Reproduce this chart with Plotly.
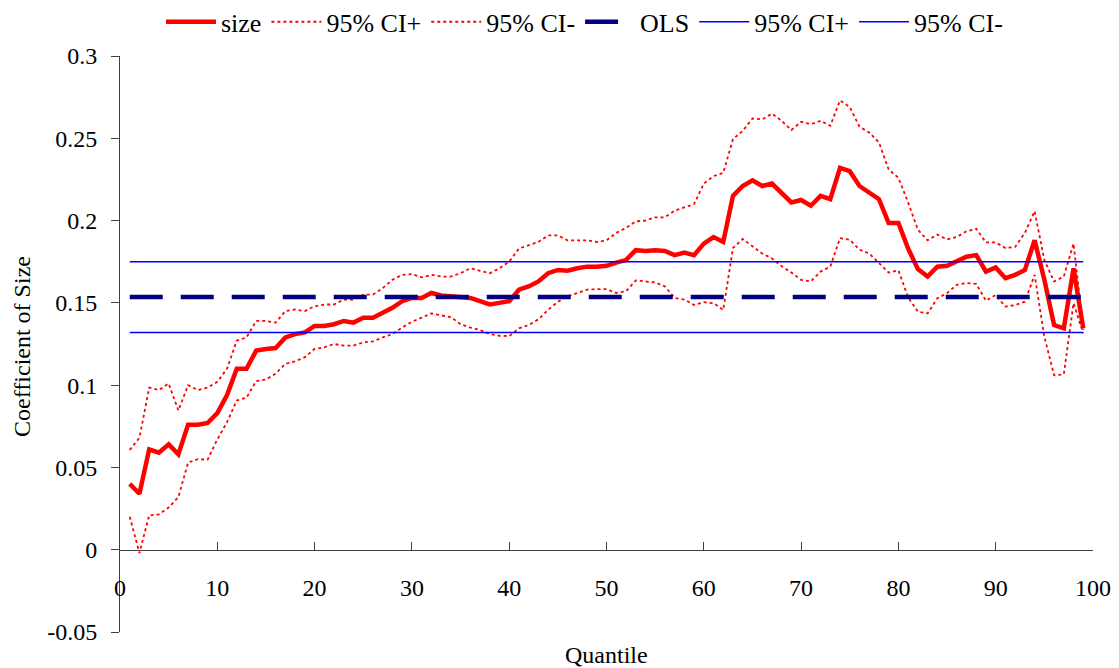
import plotly.graph_objects as go

quantiles = list(range(1, 100))

size = [0.040, 0.034, 0.061, 0.059, 0.064, 0.058, 0.076, 0.076, 0.077, 0.083,
        0.094, 0.110, 0.110, 0.121, 0.122, 0.1225, 0.129, 0.131, 0.132, 0.136,
        0.136, 0.137, 0.139, 0.138, 0.141, 0.141, 0.144, 0.147, 0.151, 0.153,
        0.153, 0.156, 0.1545, 0.154, 0.1535, 0.153, 0.151, 0.149, 0.150, 0.151,
        0.158, 0.160, 0.163, 0.168, 0.170, 0.1695, 0.171, 0.172, 0.172, 0.1725,
        0.1745, 0.176, 0.182, 0.1815, 0.182, 0.1815, 0.179, 0.1805, 0.179, 0.186,
        0.190, 0.187, 0.215, 0.221, 0.2245, 0.221, 0.2225, 0.217, 0.211, 0.2125,
        0.209, 0.215, 0.213, 0.232, 0.230, 0.221, 0.217, 0.213, 0.1985, 0.1985,
        0.183, 0.1705, 0.166, 0.172, 0.1725, 0.175, 0.178, 0.179, 0.169, 0.1715,
        0.165, 0.167, 0.170, 0.188, 0.164, 0.1365, 0.1345, 0.171, 0.1345]

ci_upper = [0.0606, 0.068, 0.0985, 0.097, 0.101, 0.0846, 0.100, 0.097, 0.0985, 0.102,
            0.110, 0.127, 0.129, 0.139, 0.139, 0.138, 0.145, 0.146, 0.145, 0.148,
            0.149, 0.149, 0.152, 0.152, 0.155, 0.155, 0.159, 0.164, 0.167, 0.1675,
            0.1655, 0.167, 0.166, 0.166, 0.168, 0.171, 0.1695, 0.168, 0.171, 0.175,
            0.183, 0.185, 0.187, 0.191, 0.191, 0.188, 0.188, 0.188, 0.187, 0.188,
            0.1925, 0.1955, 0.1995, 0.200, 0.202, 0.202, 0.206, 0.208, 0.210, 0.2225,
            0.227, 0.229, 0.2495, 0.2545, 0.262, 0.2615, 0.265, 0.2606, 0.255, 0.260,
            0.2586, 0.2606, 0.2576, 0.273, 0.269, 0.257, 0.2535, 0.2475, 0.231, 0.226,
            0.211, 0.1945, 0.188, 0.1915, 0.1885, 0.190, 0.1935, 0.195, 0.1867, 0.1867,
            0.1833, 0.184, 0.1925, 0.2057, 0.176, 0.163, 0.166, 0.186, 0.1335]

ci_lower = [0.020, -0.002, 0.021, 0.0215, 0.0256, 0.032, 0.053, 0.055, 0.0547, 0.067,
            0.0775, 0.0907, 0.0924, 0.1025, 0.1034, 0.107, 0.113, 0.1145, 0.117, 0.122,
            0.123, 0.125, 0.124, 0.124, 0.126, 0.1266, 0.129, 0.131, 0.135, 0.1385,
            0.141, 0.1436, 0.1424, 0.1414, 0.137, 0.135, 0.1335, 0.131, 0.130, 0.1298,
            0.1345, 0.1365, 0.140, 0.1457, 0.1507, 0.154, 0.156, 0.158, 0.1583, 0.1583,
            0.156, 0.157, 0.1636, 0.163, 0.1624, 0.160, 0.153, 0.152, 0.1487, 0.1504,
            0.1498, 0.1457, 0.1833, 0.1888, 0.1843, 0.180, 0.177, 0.1723, 0.1684, 0.164,
            0.163, 0.169, 0.172, 0.1894, 0.1884, 0.1823, 0.180, 0.1742, 0.1684, 0.1697,
            0.1534, 0.1446, 0.1436, 0.1528, 0.1559, 0.161, 0.162, 0.1615, 0.1513, 0.1548,
            0.1477, 0.1487, 0.1507, 0.167, 0.1294, 0.106, 0.1066, 0.1498, 0.1314]

ols_coef = 0.1535
ols_ci_upper = 0.175
ols_ci_lower = 0.132

x_ticks = list(range(0, 101, 10))
y_ticks = [-0.05, 0, 0.05, 0.1, 0.15, 0.2, 0.25, 0.3]
y_tick_text = ["-0.05", "0", "0.05", "0.1", "0.15", "0.2", "0.25", "0.3"]

FONT = "Liberation Serif"

fig = go.Figure()
fig.add_trace(go.Scatter(x=quantiles, y=size, mode="lines", name="size",
                         line=dict(color="#FF0000", width=4.5)))
fig.add_trace(go.Scatter(x=quantiles, y=ci_upper, mode="lines", name="95% CI+",
                         line=dict(color="#FF0000", width=1.8, dash="3px,3px")))
fig.add_trace(go.Scatter(x=quantiles, y=ci_lower, mode="lines", name="95% CI-",
                         line=dict(color="#FF0000", width=1.8, dash="3px,3px")))
fig.add_trace(go.Scatter(x=quantiles, y=[ols_coef] * len(quantiles), mode="lines", name="OLS",
                         line=dict(color="#000080", width=4.5, dash="33px,18px")))
fig.add_trace(go.Scatter(x=quantiles, y=[ols_ci_upper] * len(quantiles), mode="lines", name="95% CI+",
                         line=dict(color="#0000FF", width=1.5)))
fig.add_trace(go.Scatter(x=quantiles, y=[ols_ci_lower] * len(quantiles), mode="lines", name="95% CI-",
                         line=dict(color="#0000FF", width=1.5)))

# the page body has an 8px margin, so the figure is drawn 8px right/down
fig.update_layout(
    width=1111, height=660,
    margin=dict(l=112.4, r=26, t=48, b=36, autoexpand=False),
    paper_bgcolor="white", plot_bgcolor="white",
    font=dict(family=FONT, size=24, color="black"),
    showlegend=True,
    legend=dict(orientation="h", xref="container", yref="container",
                x=0.1377, xanchor="left", y=0.979, yanchor="middle",
                itemwidth=50, font=dict(family=FONT, size=26, color="black"),
                bgcolor="rgba(0,0,0,0)", tracegroupgap=0),
    xaxis=dict(range=[0, 100], tickvals=x_ticks, ticks="inside", ticklen=8,
               tickcolor="#404040", showline=True, linecolor="#404040", linewidth=1,
               showgrid=False, zeroline=False, anchor="free", position=0.05 / 0.35,
               automargin=False,
               ticklabelstandoff=16, tickfont=dict(family=FONT, size=24, color="black")),
    yaxis=dict(range=[-0.05, 0.3], tickvals=y_ticks, ticktext=y_tick_text,
               ticks="outside", ticklen=8, tickcolor="#404040", showline=True,
               linecolor="#404040", linewidth=1, showgrid=False, zeroline=False,
               automargin=False,
               ticklabelstandoff=9, tickfont=dict(family=FONT, size=24, color="black")),
    annotations=[
        dict(text="Quantile", xref="paper", yref="paper", x=0.5, y=-0.04,
             xanchor="center", yanchor="middle", showarrow=False,
             font=dict(family=FONT, size=24, color="black")),
        dict(text="Coefficient of Size", xref="paper", yref="paper", x=-0.1007, y=0.495,
             xanchor="center", yanchor="middle", textangle=-90, showarrow=False,
             font=dict(family=FONT, size=24, color="black")),
    ],
)

fig.write_html("out.html")
